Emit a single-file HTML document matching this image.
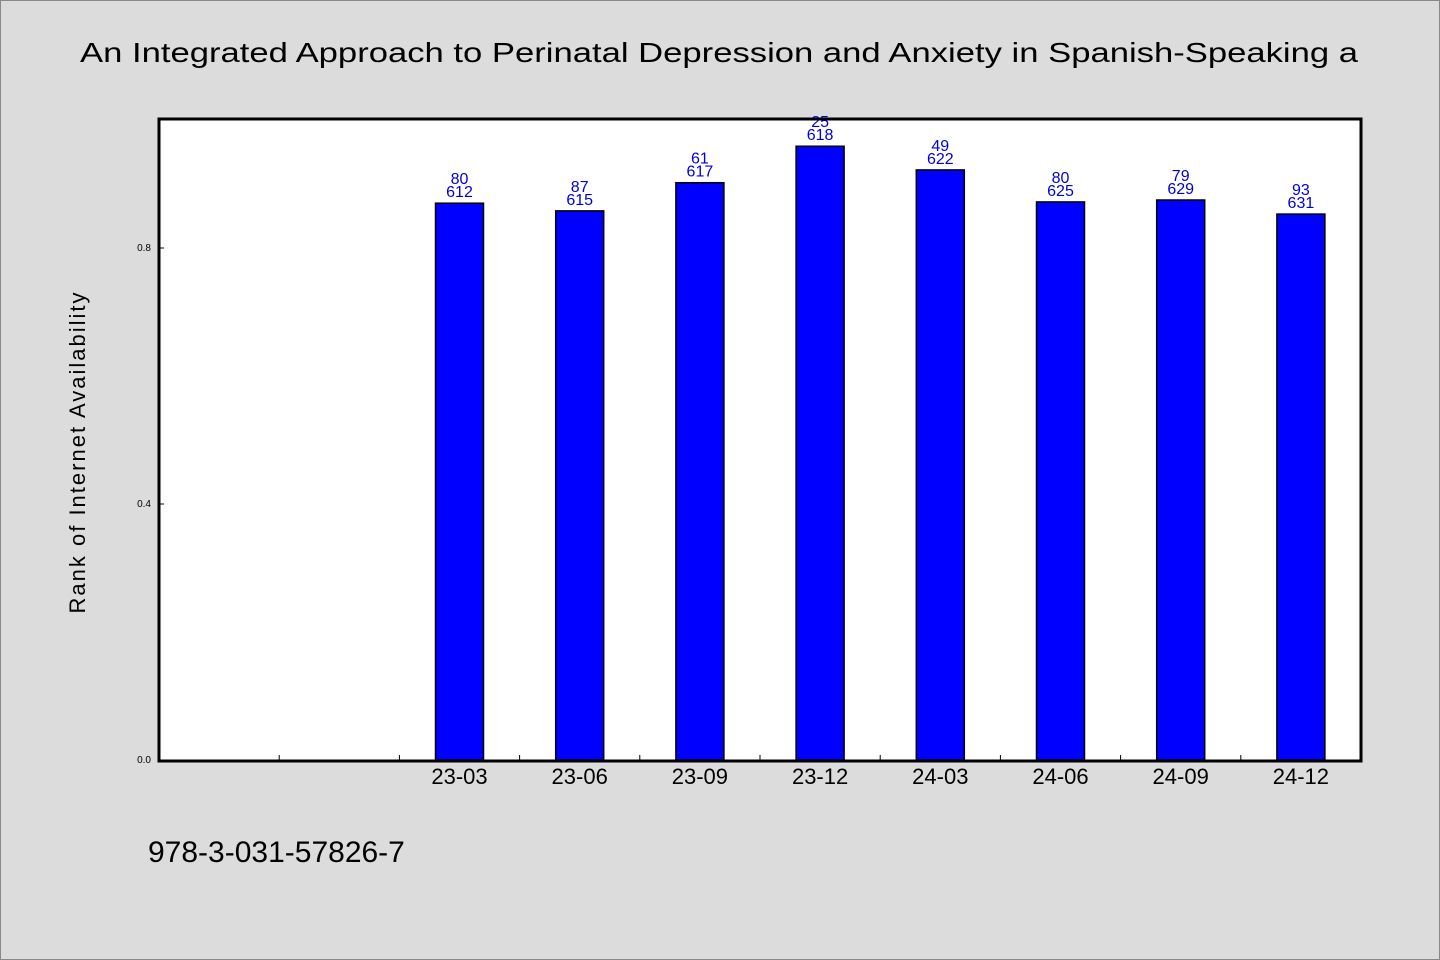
<!DOCTYPE html>
<html><head><meta charset="utf-8"><style>
html,body{margin:0;padding:0;background:#dcdcdc;}
svg{display:block;font-family:"WenQuanYi Zen Hei","Liberation Sans",sans-serif;}
</style></head><body>
<svg id="chart" width="1440" height="960" viewBox="0 0 1440 960">
<rect x="0.5" y="0.5" width="1439" height="959" fill="#dcdcdc" stroke="#888"/>
<text x="719" y="62" font-size="28" text-anchor="middle" textLength="1278" lengthAdjust="spacingAndGlyphs">An Integrated Approach to Perinatal Depression and Anxiety in Spanish-Speaking a</text>
<rect x="159" y="119" width="1202" height="642" fill="#fff"/>
<g id="bars"></g>
<g id="axes"></g>
<text transform="translate(85,452) rotate(-90)" font-size="22" text-anchor="middle" letter-spacing="2">Rank of Internet Availability</text>
<text x="148" y="862" font-size="30">978-3-031-57826-7</text>
</svg>
<script>
const categories = ["23-03","23-06","23-09","23-12","24-03","24-06","24-09","24-12"];
const values = [0.870,0.858,0.902,0.959,0.922,0.872,0.875,0.853];
const topLabels = ["80","87","61","25","49","80","79","93"];
const bottomLabels = ["612","615","617","618","622","625","629","631"];
const yTicks = [0.0,0.4,0.8];
const yTickLabels = ["0.0","0.4","0.8"];
const slotOffset = 2, slotCount = 10;

const NS="http://www.w3.org/2000/svg";
const L=159,R=1361,T=119,B=760;
const slotW=(R-L)/slotCount;
const y=v=>B-v*640;
const xc=i=>L+(i+slotOffset+0.5)*slotW;
function mk(tag,attrs,parent){const e=document.createElementNS(NS,tag);for(const k in attrs)e.setAttribute(k,attrs[k]);parent.appendChild(e);return e;}
const bars=document.getElementById('bars'), axes=document.getElementById('axes');
categories.forEach((c,i)=>{
  const r=mk('rect',{x:xc(i)-24,y:y(values[i]),width:48,height:B-y(values[i]),fill:'#0000ff',stroke:'#000','stroke-width':1.5},bars);
  
  
  const t1=mk('text',{x:xc(i),y:y(values[i])-6,'font-size':16,fill:'#0000dd','text-anchor':'middle'},bars);
  t1.textContent=bottomLabels[i];
  
  
  const t2=mk('text',{x:xc(i),y:y(values[i])-19,'font-size':16,fill:'#0000dd','text-anchor':'middle'},bars);
  t2.textContent=topLabels[i];
  
  
  const xl=mk('text',{x:xc(i),y:784,'font-size':22,'text-anchor':'middle'},axes);
  xl.textContent=c;
  
  
});
for(let k=1;k<slotCount;k++){
  const t=mk('line',{x1:L+k*slotW,x2:L+k*slotW,y1:B,y2:B-5,stroke:'#000','stroke-width':1},axes);
  
  
}
yTicks.forEach((v,i)=>{
  const t=mk('line',{x1:L,x2:L+5,y1:y(v),y2:y(v),stroke:'#000','stroke-width':1},axes);
  
  
  const l=mk('text',{x:151,y:y(v)+3,'font-size':10,'text-anchor':'end'},axes);
  l.textContent=yTickLabels[i];
  
  
});
const fr=mk('rect',{x:L,y:T,width:R-L,height:B-T+1,fill:'none',stroke:'#000','stroke-width':3},axes);


</script>
</body></html>
